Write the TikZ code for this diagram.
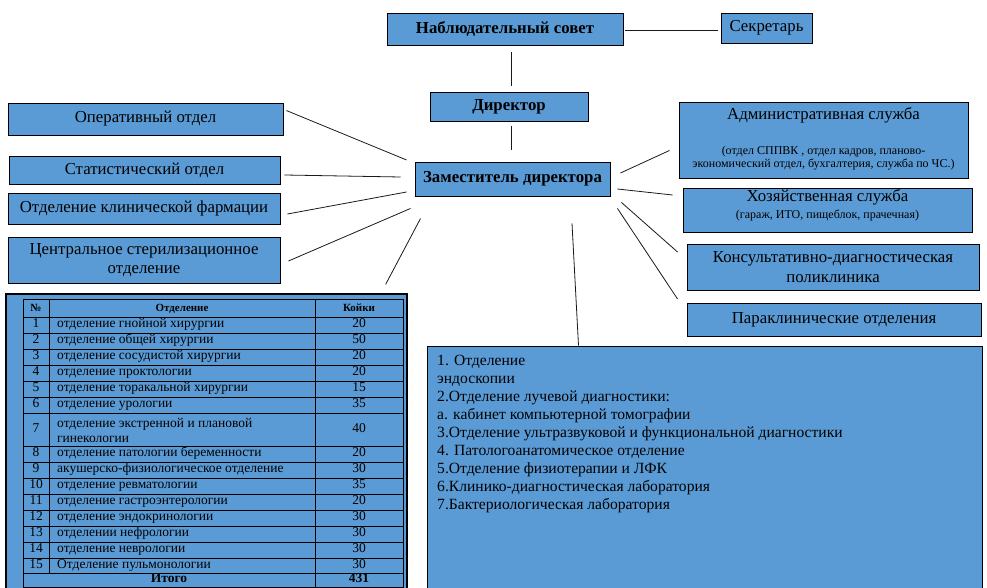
\documentclass[tikz,border=0pt]{standalone}
\usepackage{fontspec}
\setmainfont{Liberation Serif}
\usetikzlibrary{calc}
\definecolor{boxblue}{HTML}{5B9BD5}
\definecolor{linec}{HTML}{1A1A1A}
\begin{document}
\begin{tikzpicture}[x=1pt,y=-1pt,
  box/.style={draw=black, fill=boxblue, line width=0.9pt, inner sep=0pt, align=center},
  conn/.style={draw=linec, line width=0.8pt},
  big/.style={font=\fontsize{16.8}{19.5}\selectfont},
  bigb/.style={font=\bfseries\fontsize{16.8}{19.5}\selectfont},
  small/.style={font=\fontsize{12}{13.5}\selectfont, inner sep=0pt},
  cell/.style={font=\fontsize{13.5}{15}\selectfont, inner sep=0pt},
  hcell/.style={font=\bfseries\fontsize{11}{13}\selectfont, inner sep=0pt},
  tcell/.style={font=\bfseries\fontsize{13.5}{15}\selectfont, inner sep=0pt},
  listtxt/.style={font=\fontsize{15.6}{18}\selectfont, inner sep=0pt, anchor=mid west},
  grid/.style={draw=black, line width=0.8pt}]
\useasboundingbox (0,0) rectangle (987,588);
\fill[white] (0,0) rectangle (987,588);

% top chain
\node[box, bigb, minimum width=236pt, minimum height=32pt] (sovet) at (505,29) {Наблюдательный совет};
\node[box, big, minimum width=91pt, minimum height=30pt] (sekr) at (766.5,28) {Секретарь};
\node[box, bigb, minimum width=158pt, minimum height=29pt] (director) at (509,106.5) {Директор};
\node[box, bigb, minimum width=195pt, minimum height=34pt] (zam) at (512.5,179) {Заместитель директора};

% left boxes
\node[box, big, minimum width=275pt, minimum height=32pt] (oper) at (145.5,119) {Оперативный отдел};
\node[box, big, minimum width=271pt, minimum height=28pt] (stat) at (144.5,170) {Статистический отдел};
\node[box, big, minimum width=272pt, minimum height=31pt] (farm) at (144,208.5) {Отделение клинической фармации};
\node[box, big, minimum width=272pt, minimum height=46pt] (steril) at (144,260) {Центральное стерилизационное\\отделение};

% right boxes
\node[box, minimum width=289pt, minimum height=76pt] (admin) at (823.5,140) {};
\node[big, inner sep=0pt, anchor=mid] (admintitle) at (823.5,117) {Административная служба};
\node[small, anchor=mid] (adminsub1) at (823.5,152) {(отдел СППВК , отдел кадров, планово-};
\node[small, anchor=mid] (adminsub2) at (823.5,165) {экономический отдел, бухгалтерия, служба по ЧС.)};

\node[box, minimum width=289pt, minimum height=44pt] (hoz) at (827.5,210) {};
\node[big, inner sep=0pt, anchor=mid] (hoztitle) at (827.5,199) {Хозяйственная служба};
\node[small, anchor=mid] (hozsub) at (827.5,216) {(гараж, ИТО, пищеблок, прачечная)};

\node[box, big, minimum width=292pt, minimum height=46pt] (kons) at (833,267) {Консультативно-диагностическая\\поликлиника};
\node[box, big, minimum width=294pt, minimum height=33pt] (parakl) at (834,319.5) {Параклинические отделения};

% bottom right list box
\node[box, minimum width=555pt, minimum height=260pt] (paralist) at (704.5,476) {};
\foreach \t [count=\i from 0] in {1. Отделение, эндоскопии, 2.Отделение лучевой диагностики:, а. кабинет компьютерной томографии, 3.Отделение ультразвуковой и функциональной диагностики, 4. Патологоанатомическое отделение, 5.Отделение физиотерапии и ЛФК, 6.Клинико-диагностическая лаборатория, 7.Бактериологическая лаборатория}
  \node[listtxt] (li\i) at (437,363+18*\i) {\t};

% table
\node[box, line width=1.3pt, minimum width=401pt, minimum height=310pt] (tbl) at (206.5,449) {};
\draw[grid] (23,299) rectangle (403,587.5);
\foreach \yy in {317.5,333.5,349.5,365.5,381.5,397.5,413.5,446.5,462.5,478.5,494.5,510.5,526.5,542.5,558,573.5}
  \draw[grid] (23,\yy) -- (403,\yy);
\draw[grid] (49,299) -- (49,573.5);
\draw[grid] (315,299) -- (315,587.5);
\node[hcell, anchor=mid] (hnum) at (36,309.5) {№};
\node[hcell, anchor=mid] (hdep) at (182,309.5) {Отделение};
\node[hcell, anchor=mid] (hbed) at (359,309.5) {Койки};
\foreach \n/\t/\b/\yy in {1/отделение гнойной хирургии/20/325.5,
  2/отделение общей хирургии/50/341.5,
  3/отделение сосудистой хирургии/20/357.5,
  4/отделение проктологии/20/373.5,
  5/отделение торакальной хирургии/15/389.5,
  6/отделение урологии/35/405.5,
  8/отделение патологии беременности/20/454.5,
  9/акушерско-физиологическое отделение/30/470.5,
  10/отделение ревматологии/35/486.5,
  11/отделение гастроэнтерологии/20/502.5,
  12/отделение эндокринологии/30/518.5,
  13/отделении нефрологии/30/534.5,
  14/отделение неврологии/30/550.3,
  15/Отделение пульмонологии/30/565.8}{
  \node[cell, anchor=mid] (n\n) at (36,\yy) {\n};
  \node[cell, anchor=mid west] (t\n) at (57,\yy) {\t};
  \node[cell, anchor=mid] (b\n) at (359,\yy) {\b};
}
\node[cell, anchor=mid] (n7) at (36,430) {7};
\node[cell, align=left, anchor=west] (t7) at (57,430) {отделение экстренной и плановой\\гинекологии};
\node[cell, anchor=mid] (b7) at (359,430) {40};
\node[tcell, anchor=mid] (total) at (169,580.5) {Итого};
\node[tcell, anchor=mid] (totalb) at (359,580.5) {431};

% connectors
\draw[conn] ($(sovet.east)+(2,1)$) -- ($(sekr.west)+(-3,2)$);
\draw[conn] ($(sovet.south)+(6,7)$) -- ($(director.north)+(2,-6)$);
\draw[conn] ($(director.south)+(2,5)$) -- ($(zam.north)+(-1.5,-12)$);
\draw[conn] ($(oper.north east)+(3,8)$) -- ($(zam.west)+(-8,-19)$);
\draw[conn] ($(stat.east)+(4,5)$) -- ($(zam.west)+(-14,-2)$);
\draw[conn] ($(farm.east)+(7,5.5)$) -- ($(zam.west)+(-8,13)$);
\draw[conn] ($(steril.east)+(8,1)$) -- ($(zam.south west)+(-4,12)$);
\draw[conn] ($(tbl.north east)+(-22,-9)$) -- ($(zam.south west)+(6,22)$);
\draw[conn] ($(zam.east)+(10,-6)$) -- ($(admin.south west)+(-9,-28)$);
\draw[conn] ($(zam.east)+(7,10)$) -- ($(hoz.west)+(-10,-15)$);
\draw[conn] ($(zam.south east)+(11,6)$) -- ($(kons.west)+(-9,-15)$);
\draw[conn] ($(zam.south east)+(7,12)$) -- ($(parakl.west)+(-9,-20.5)$);
\draw[conn] ($(zam.south)+(59.5,27)$) -- ($(paralist.north)+(-126,0)$);
\end{tikzpicture}
\end{document}
